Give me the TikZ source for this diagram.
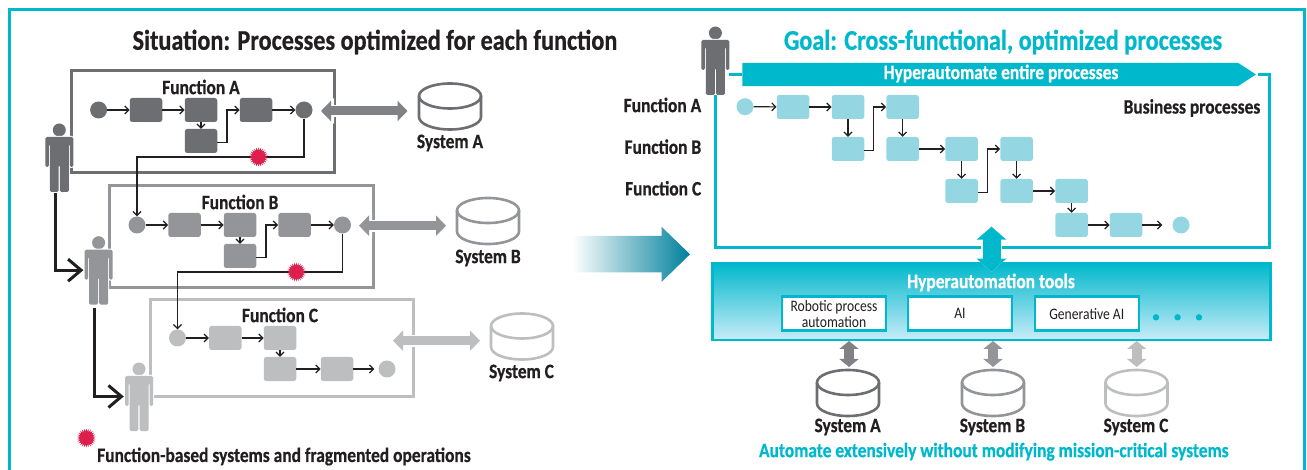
\documentclass[tikz,border=0pt]{standalone}
\usepackage{fontspec}
\setmainfont[FakeStretch=0.85,BoldFeatures={FakeStretch=0.85,FakeBold=0.6}]{Carlito}
\usetikzlibrary{arrows.meta,shapes.geometric,shapes.symbols}
\definecolor{grayA}{HTML}{6D6E71}
\definecolor{grayB}{HTML}{939598}
\definecolor{grayC}{HTML}{BCBEC0}
\definecolor{arrowA}{HTML}{808285}
\definecolor{hyper}{HTML}{00B8CC}
\definecolor{hyperbox}{HTML}{94D7E3}
\definecolor{hypermid}{HTML}{6FC3D3}
\definecolor{hyperdark}{HTML}{00809C}
\definecolor{hyperpale}{HTML}{C8ECF8}
\definecolor{ink}{HTML}{231F20}
\definecolor{burst}{HTML}{DC1F4C}
\begin{document}
\begin{tikzpicture}[x=1pt,y=-1pt,
				pbox/.style={rectangle,rounded corners=2.5pt,minimum width=32.5pt,minimum height=24pt,inner sep=0pt},
				pdot/.style={circle,minimum size=17pt,inner sep=0pt},
				fnbox/.style={rectangle,line width=3pt,inner sep=0pt},
				flow/.style={->,>={Straight Barb[length=4pt,width=8pt]},line width=1.2pt,draw=ink},
				handoff/.style={->,>={Straight Barb[length=13pt,width=22pt]},line width=3pt,draw=ink,shorten >=1pt},
				sysarrow/.style={<->,>={Triangle[length=10pt,width=20pt]},line width=9pt,draw=#1,
					preaction={draw=white,line width=12pt,>={Triangle[length=13pt,width=25pt]}}},
				toolarrow/.style={<->,>={Triangle[length=8pt,width=19pt]},line width=10pt,draw=#1},
				hubarrow/.style={<->,>={Triangle[length=13pt,width=29pt]},line width=18pt,draw=hyper,
					preaction={draw=white,line width=21pt,>={Triangle[length=16pt,width=35pt]}}},
				burstmark/.style={star,star points=26,star point ratio=1.45,fill=burst,minimum size=19pt,inner sep=0pt},
				txt/.style={font=\bfseries\fontsize{20.5}{20.5}\selectfont,text=ink,inner sep=0pt},
				bigtxt/.style={font=\bfseries\fontsize{28.5}{28.5}\selectfont,text=ink,inner sep=0pt},
				small/.style={font=\fontsize{16}{16}\selectfont,text=ink,inner sep=0pt,align=center},
				tool/.style={rectangle,fill=white,draw=hyper,line width=2.4pt,minimum width=104pt,minimum height=34pt,inner sep=0pt},
				pics/drum/.style={code={
					\draw[#1,line width=2.6pt,fill=white] (0,-10.5) ellipse (31pt and 12.5pt);
					\draw[#1,line width=2.6pt] (-31,-10.5) -- (-31,10.5) arc[start angle=180,end angle=360,x radius=31pt,y radius=12.5pt] -- (31,-10.5);
				}},
				pics/person/.style={code={
					\node[inner sep=0pt,minimum width=28pt,minimum height=68pt] (-body) at (0,27.5) {};
					\fill[#1] (0,0) circle (6.5pt);
					\fill[#1,rounded corners=1.5pt,preaction={draw=white,line width=2pt}] (-14,37) -- (-14,7) -- (14,7) -- (14,37) -- (10.5,37) -- (10.5,14) -- (9.5,14) -- (9.5,62) -- (0.6,62) -- (0.6,35) -- (-0.6,35) -- (-0.6,62) -- (-9.5,62) -- (-9.5,14) -- (-10.5,14) -- (-10.5,37) -- cycle;
				}}]
\useasboundingbox (0,0) rectangle (1307,470);
\draw[hyper,line width=3pt] (9,471) -- (9,10) -- (1304,10) -- (1304,471);

\node[bigtxt] (situation) at (375,42) {Situation: Processes optimized for each function};
\node[bigtxt,text=hyper] (goal) at (1003,42) {Goal: Cross-functional, optimized processes};

\node[fnbox,draw=grayA,minimum width=263pt,minimum height=102pt] (funcA) at (203,121.7) {};
\node[txt] (labelA) at (201,87) {Function A};
\node[pdot,fill=grayA] (startA) at (98.6,110) {};
\node[pbox,fill=grayA] (boxA1) at (146,110) {};
\node[pbox,fill=grayA] (boxA2) at (201,110) {};
\node[pbox,fill=grayA] (boxA3) at (201,141) {};
\node[pbox,fill=grayA] (boxA4) at (256,110) {};
\node[pdot,fill=grayA] (endA) at (304,110) {};
\draw[flow] (startA) -- (boxA1);
\draw[flow] (boxA1) -- (boxA2);
\draw[flow] (boxA2) -- (boxA3);
\draw[flow] ([yshift=-1.5pt]boxA3.east) -- ++(9.5,0) |- (boxA4);
\draw[flow] (boxA4) -- (endA);

\node[fnbox,draw=grayB,minimum width=264pt,minimum height=102pt] (funcB) at (241,237) {};
\node[txt] (labelB) at (240,202) {Function B};
\node[pdot,fill=grayB] (startB) at (137,225) {};
\node[pbox,fill=grayB] (boxB1) at (184.5,225) {};
\node[pbox,fill=grayB] (boxB2) at (240,225) {};
\node[pbox,fill=grayB] (boxB3) at (240,256) {};
\node[pbox,fill=grayB] (boxB4) at (294.5,225) {};
\node[pdot,fill=grayB] (endB) at (342.5,225) {};
\draw[flow] (startB) -- (boxB1);
\draw[flow] (boxB1) -- (boxB2);
\draw[flow] (boxB2) -- (boxB3);
\draw[flow] ([yshift=-1.5pt]boxB3.east) -- ++(9.5,0) |- (boxB4);
\draw[flow] (boxB4) -- (endB);

\node[fnbox,draw=grayC,minimum width=263pt,minimum height=97pt] (funcC) at (282,348) {};
\node[txt] (labelC) at (280,315) {Function C};
\node[pdot,fill=grayC] (startC) at (177.5,338) {};
\node[pbox,fill=grayC] (boxC1) at (225.3,338) {};
\node[pbox,fill=grayC] (boxC2) at (280,338) {};
\node[pbox,fill=grayC] (boxC3) at (280,369) {};
\node[pbox,fill=grayC] (boxC4) at (337,369) {};
\node[pdot,fill=grayC] (endC) at (387,369) {};
\draw[flow] (startC) -- (boxC1);
\draw[flow] (boxC1) -- (boxC2);
\draw[flow] (boxC2) -- (boxC3);
\draw[flow] (boxC3) -- (boxC4);
\draw[flow,shorten >=4pt] (boxC4) -- (endC);

\coordinate (turnA) at (137,157);
\coordinate (turnB) at (177.5,272);
\draw[flow] (endA) |- (turnA) -- (startB);
\draw[flow] (endB) |- (turnB) -- (startC);
\node[burstmark] (burstA) at (258.5,157) {};
\node[burstmark] (burstB) at (296.4,272) {};

\pic (sysA) at (450,106.5) {drum=grayA};
\pic (sysB) at (488,221) {drum=grayB};
\pic (sysC) at (522,336.5) {drum=grayC};
\node[txt] (nameA) at (450,143) {System A};
\node[txt] (nameB) at (488,258) {System B};
\node[txt] (nameC) at (521.5,373) {System C};
\coordinate (portA) at (321,111);
\coordinate (portB) at (359,225.7);
\coordinate (portC) at (393,340.7);
\coordinate (dockA) at (407.5,111);
\coordinate (dockB) at (446,225.7);
\coordinate (dockC) at (480,340.7);
\draw[sysarrow=arrowA] (portA) -- (dockA);
\draw[sysarrow=grayB] (portB) -- (dockB);
\draw[sysarrow=grayC] (portC) -- (dockC);

\pic (personA) at (59.3,130) {person=grayA};
\pic (personB) at (98.6,242.7) {person=grayB};
\pic (personC) at (139,369) {person=grayC};
\coordinate (leaveA) at (55.4,193);
\coordinate (leaveB) at (94.3,308);
\draw[handoff] (leaveA) |- (personB-body.west);
\draw[handoff] (leaveB) |- (personC-body.west);

\node[burstmark] (burstKey) at (86.4,438) {};
\node[txt,anchor=west] (keyText) at (97,456.5) {Function-based systems and fragmented operations};

\shade[left color=white,middle color=hypermid,right color=hyperdark] (572,236) -- (661.5,236) -- (661.5,226.7) -- (690,254.3) -- (661.5,282) -- (661.5,272.3) -- (572,272.3) -- cycle;

\pic (personG) at (715.4,33) {person=grayA};
\node[signal,signal to=east,signal pointer angle=66,fill=hyper,minimum width=513.5pt,minimum height=23.4pt,inner sep=0pt] (banner) at (990.2,74.5) {};
\node[txt,text=white] (bannerText) at (1001,73.5) {Hyperautomate entire processes};
\coordinate (personPort) at (729,74.5);
\coordinate (procCorner) at (1269.5,247.7);
\draw[hyper,line width=3pt] (personPort) -- (banner.west);
\draw[hyper,line width=3pt] ([xshift=1.5pt]banner.east) -| (procCorner) -| (personG-body.south);

\node[txt,anchor=east] (rowA) at (701.4,105) {Function A};
\node[txt,anchor=east] (rowB) at (701.4,146.7) {Function B};
\node[txt,anchor=east] (rowC) at (701.4,188.3) {Function C};
\node[txt,anchor=east] (bizText) at (1260.5,108) {Business processes};

\node[pdot,fill=hyperbox] (start) at (745,106.7) {};
\node[pbox,fill=hyperbox] (a1) at (793,107) {};
\node[pbox,fill=hyperbox] (a2) at (848,107) {};
\node[pbox,fill=hyperbox] (a3) at (902.6,107) {};
\node[pbox,fill=hyperbox] (b1) at (848,149) {};
\node[pbox,fill=hyperbox] (b2) at (902.6,149) {};
\node[pbox,fill=hyperbox] (b3) at (961.6,149) {};
\node[pbox,fill=hyperbox] (b4) at (1016.6,149) {};
\node[pbox,fill=hyperbox] (c1) at (961.6,191) {};
\node[pbox,fill=hyperbox] (c2) at (1016.6,191) {};
\node[pbox,fill=hyperbox] (c3) at (1071.6,191) {};
\node[pbox,fill=hyperbox] (d1) at (1071.6,225) {};
\node[pbox,fill=hyperbox] (d2) at (1126,225) {};
\node[pdot,fill=hyperbox] (end) at (1181,225) {};
\draw[flow] (start) -- (a1);
\draw[flow] (a1) -- (a2);
\draw[flow] (a2) -- (b1);
\draw[flow] ([yshift=-1.5pt]b1.east) -- ++(9,0) |- (a3);
\draw[flow] (a3) -- (b2);
\draw[flow] (b2) -- (b3);
\draw[flow] (b3) -- (c1);
\draw[flow] ([yshift=-1.5pt]c1.east) -- ++(9.5,0) |- (b4);
\draw[flow] (b4) -- (c2);
\draw[flow] (c2) -- (c3);
\draw[flow] (c3) -- (d1);
\draw[flow] (d1) -- (d2);
\draw[flow,shorten >=10pt] (d2) -- (end);

\node[rectangle,draw=hyper,line width=2.5pt,top color=hyper,bottom color=hyperpale,minimum width=558pt,minimum height=77pt,inner sep=0pt] (tools) at (991.7,301.3) {};
\node[txt,text=white] (toolsText) at (991,282.5) {Hyperautomation tools};
\node[tool,small] (rpa) at (834,313.7) {Robotic process\\automation};
\node[tool,small] (ai) at (960,313.7) {AI};
\node[tool,small] (genai) at (1086.8,313.7) {Generative AI};
\fill[hyper] (1156,317.3) circle (3.2pt) (1177.6,317.3) circle (3.2pt) (1199,317.3) circle (3.2pt);
\coordinate (hubTop) at (991.5,226.7);
\coordinate (hubBot) at (991.5,271.7);
\draw[hubarrow] (hubTop) -- (hubBot);

\pic (rsysA) at (848,393) {drum=grayA};
\pic (rsysB) at (993,393) {drum=grayB};
\pic (rsysC) at (1136.5,393) {drum=grayC};
\coordinate (toolA) at (849,341);
\coordinate (toolB) at (993,341);
\coordinate (toolC) at (1136.7,341);
\coordinate (feedA) at (849,367);
\coordinate (feedB) at (993,367);
\coordinate (feedC) at (1136.7,367);
\draw[toolarrow=arrowA] (toolA) -- (feedA);
\draw[toolarrow=grayB] (toolB) -- (feedB);
\draw[toolarrow=grayC] (toolC) -- (feedC);
\node[txt] (rnameA) at (847.6,427) {System A};
\node[txt] (rnameB) at (992.4,427) {System B};
\node[txt] (rnameC) at (1136,427) {System C};
\node[txt,text=hyper] (footer) at (993.8,451.7) {Automate extensively without modifying mission-critical systems};
\end{tikzpicture}
\end{document}
